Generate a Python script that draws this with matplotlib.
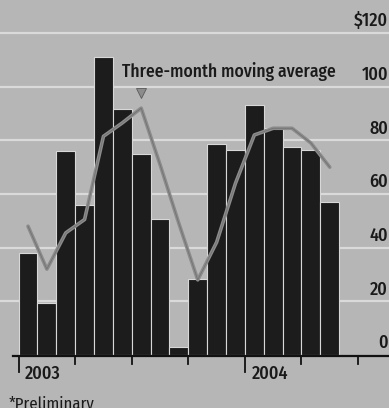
import matplotlib
matplotlib.use("Agg")
import matplotlib.pyplot as plt

plt.rcParams['font.family'] = ['Fira Sans Condensed', 'DejaVu Sans']

# monthly values, Jan 2003 - May 2004
months = list(range(17))
values = [38, 19.5, 76, 56, 111, 91.5, 75, 50.5, 3, 28.5, 78.5, 76.5, 93, 84.5, 77.5, 76.5, 57]
moving_avg = [48, 32, 45.5, 50.5, 81.5, 86.5, 92, 71, 49, 28, 42, 64, 82, 84.5, 84.5, 79, 70]
y_ticks = [0, 20, 40, 60, 80, 100, 120]
y_labels = ['0', '20', '40', '60', '80', '100', '$120']
quarter_ticks = [-0.5, 2.5, 5.5, 8.5, 11.5, 14.5, 17.5]
year_ticks = [-0.5, 11.5]
years = ['2003', '2004']

bg = '#b6b6b6'
fig = plt.figure(figsize=(3.89, 4.08), dpi=100, facecolor=bg)
ax = fig.add_axes([0, 0, 1, 1], facecolor=bg)
ax.set_xlim(-1.485, 19.14)
ax.set_ylim(-19.75, 132.3)
ax.axis('off')

# light horizontal rules
for v in y_ticks[1:]:
    ax.axhline(v, color='#dadada', lw=1.6, zorder=1)

ax.bar(months, values, width=1.0, color='#1c1c1c', edgecolor='#d8d8d8', linewidth=0.8, zorder=2)
ax.plot(months, moving_avg, color='#8c8c8c', lw=2.6, zorder=3, solid_capstyle='round')
ax.plot(months, moving_avg, color='#5a5a5a', lw=0.6, zorder=3, alpha=0.5)

# pointer from the label to the average line
ax.plot([6], [97.5], marker='v', ms=7, color='#8c8c8c', mec='#5a5a5a', mew=0.6, zorder=4)
ax.text(4.98, 105.5, 'Three-month moving average', fontsize=12.6, fontweight='medium',
        color='#1a1a1a', ha='left', va='center', zorder=5)

# baseline and month ticks
ax.plot([-0.8, 19.14], [-0.3, -0.3], color='#111111', lw=1.6, zorder=4, clip_on=False)
for t in quarter_ticks:
    low = -6.5 if t in year_ticks else -3.2
    ax.plot([t, t], [-0.3, low], color='#111111', lw=1.3, zorder=4)
for t, yr in zip(year_ticks, years):
    ax.text(t + 0.35, -6.9, yr, fontsize=13, fontweight='medium', color='#1a1a1a',
            ha='left', va='center')

for v, lab in zip(y_ticks, y_labels):
    ax.text(19.09, v + 4.4, lab, fontsize=13, fontweight='medium', color='#1a1a1a',
            ha='right', va='center')

ax.text(-1.05, -18.0, '*Preliminary', fontsize=12, color='#1a1a1a', ha='left', va='center')

fig.savefig('out.png', dpi=100, facecolor=bg)
